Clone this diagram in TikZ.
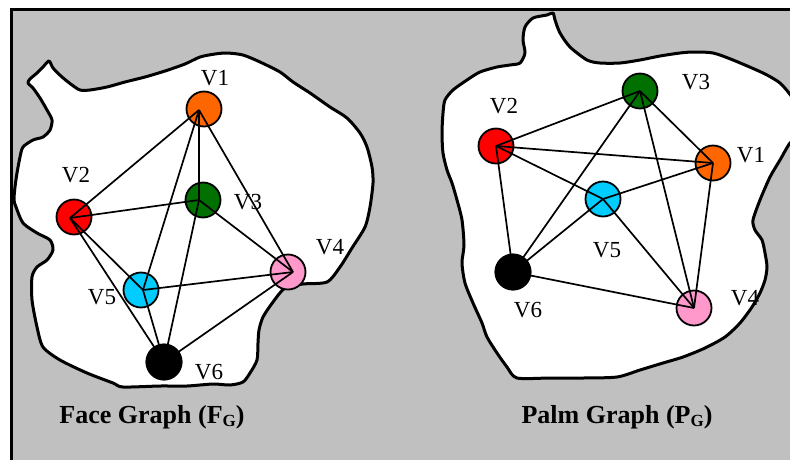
\documentclass[tikz,border=0pt]{standalone}
\usepackage{fontspec}
\setmainfont{Liberation Serif}
\definecolor{bggray}{HTML}{C0C0C0}
\definecolor{vorange}{HTML}{FF6600}
\definecolor{vred}{HTML}{FF0000}
\definecolor{vgreen}{HTML}{007000}
\definecolor{vcyan}{HTML}{00CCFF}
\definecolor{vpink}{HTML}{FF99CC}
\tikzset{
  vert/.style={circle, draw=black, line width=1.8pt, minimum size=35pt, inner sep=0pt},
  edge/.style={draw=black, line width=1.7pt},
  blob/.style={draw=black, fill=white, line width=3pt, line join=round},
  vlabel/.style={inner sep=0pt, font=\fontsize{23}{23}\selectfont},
  title/.style={inner sep=0pt, anchor=base, font=\fontsize{26}{26}\selectfont\bfseries}
}
\newcommand{\subG}{\raisebox{-0.3ex}{\fontsize{17}{17}\selectfont G}}
\begin{document}
\begin{tikzpicture}[x=1pt,y=-1pt]
\useasboundingbox (0,0) rectangle (790,459);
\clip (0,0) rectangle (790,459);
\draw[fill=bggray, line width=3pt] (11,9) rectangle (810,480);
% left blob
\path[blob] plot[smooth cycle, tension=0.45] coordinates {
(49,61) (53,68) (62,77) (72,85) (80,90) (90,90) (107,87) (125,82) (145,77) (165,71) (185,64) (200,57) (215,54) (227,53) (243,55) (260,62) (280,72) (293,82) (310,93) (330,107) (347,118) (360,133) (367,147) (372,167) (373,183) (370,207) (365,227) (352,248) (340,267) (327,282) (303,284) (285,288) (273,302) (263,317) (259,330) (258,343) (257,360) (250,373) (243,382) (230,385) (213,384) (187,386) (160,386) (123,387) (113,383) (87,373) (60,360) (43,347) (37,327) (32,300) (32,277) (37,267) (47,260) (53,250) (50,240) (37,233) (23,223) (16,207) (14,200) (15,187) (17,173) (20,157) (23,147) (33,140) (43,137) (50,130) (52,120) (47,110) (40,98) (33,88) (28,83) (30,79) (37,73) (43,67)};
% right blob
\path[blob] plot[smooth cycle, tension=0.45] coordinates {
(553,13) (555,20) (560,33) (570,47) (587,60) (600,63) (620,63) (640,60) (660,56) (680,53) (693,52) (713,53) (733,60) (763,73) (780,83) (792,97) (800,110) (800,135) (790,143) (780,160) (770,177) (760,200) (753,220) (755,230) (762,240) (765,253) (767,267) (765,280) (760,293) (752,307) (740,323) (725,337) (705,348) (683,357) (663,363) (640,370) (617,377) (583,378) (550,378) (517,378) (507,367) (497,353) (487,337) (482,323) (473,303) (465,283) (462,263) (464,245) (462,220) (457,200) (452,183) (447,170) (443,153) (442,133) (443,113) (445,100) (453,90) (467,80) (480,72) (497,67) (510,65) (520,63) (525,53) (523,40) (525,27) (533,18) (547,15)};
% left graph nodes
\node[vert, fill=vorange] (a1) at (204,109) {};
\node[vert, fill=vred]    (a2) at (74,217) {};
\node[vert, fill=vgreen]  (a3) at (203,200) {};
\node[vert, fill=vpink]   (a4) at (288,272) {};
\node[vert, fill=vcyan]   (a5) at (141,290) {};
\node[vert, fill=black]   (a6) at (164,362) {};
% meeting points of the edges inside the left nodes
\coordinate (p1) at (199,110);
\coordinate (p2) at (70,218);
\coordinate (p3) at (199,200);
\coordinate (p4) at (293,272);
\coordinate (p5) at (143,290);
\coordinate (p6) at (164,362);
\foreach \u/\v in {p1/p2,p1/p3,p1/p4,p1/p5,p2/p3,p2/p5,p2/p6,p3/p4,p3/p6,p4/p5,p4/p6,p5/p6}
  \draw[edge] (\u) -- (\v);
\node[vert, fill=black] at (a6) {};
\node[vlabel] (la1) at (215,78) {V1};
\node[vlabel] (la2) at (76,175) {V2};
\node[vlabel] (la3) at (248,202) {V3};
\node[vlabel] (la4) at (330,247) {V4};
\node[vlabel] (la5) at (102,297) {V5};
\node[vlabel] (la6) at (209,372) {V6};
% right graph nodes
\node[vert, fill=vorange] (b1) at (713,163) {};
\node[vert, fill=vred]    (b2) at (496,146) {};
\node[vert, fill=vgreen]  (b3) at (640,91) {};
\node[vert, fill=vpink]   (b4) at (694,308) {};
\node[vert, fill=vcyan]   (b5) at (603,199) {};
\node[vert, fill=black]   (b6) at (513,272) {};
\foreach \u/\v in {b2/b3,b2/b1,b2/b5,b2/b6,b3/b6,b3/b1,b3/b4,b1/b5,b1/b4,b5/b6,b5/b4,b6/b4}
  \draw[edge] (\u.center) -- (\v.center);
\node[vert, fill=black] at (b6) {};
\node[vlabel] (lb1) at (751,155) {V1};
\node[vlabel] (lb2) at (504,106) {V2};
\node[vlabel] (lb3) at (696,82) {V3};
\node[vlabel] (lb4) at (745,298) {V4};
\node[vlabel] (lb5) at (607,250) {V5};
\node[vlabel] (lb6) at (528,310) {V6};
% titles
\node[title] (t1) at (152,423) {Face Graph (F\subG)};
\node[title] (t2) at (617,423) {Palm Graph (P\subG)};
\end{tikzpicture}
\end{document}
